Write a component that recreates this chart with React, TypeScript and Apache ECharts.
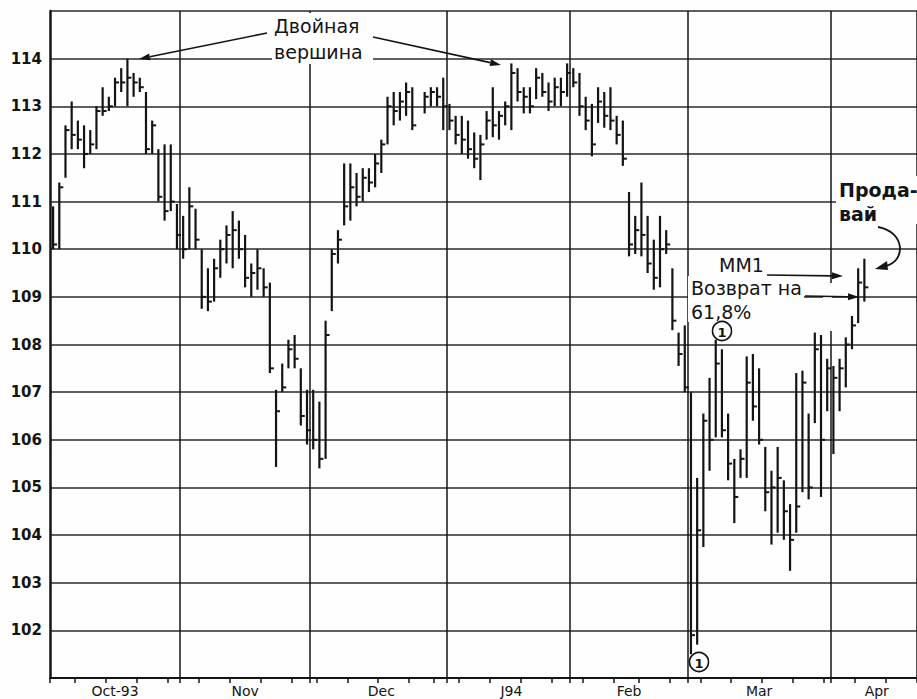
import React, { useEffect, useRef } from "react";
import * as echarts from "echarts";

// ---- data ----
const monthLabels = ["Oct-93", "Nov", "Dec", "J94", "Feb", "Mar", "Apr"];
const monthDays = [21, 21, 22, 20, 19, 23, 14];
const weekStarts = [4, 9, 14, 19, 24, 29, 34, 39, 43, 48, 53, 58, 62, 66, 71, 76, 81, 86, 91, 95, 100, 105, 110, 115, 120, 125, 130, 135];

const highs: (number | null)[] = [
  110.9, 111.4, 112.6, 113.1, 112.7, 112.6, 112.5, 113.0, 113.4, 113.2, 113.6, 113.8, 114.0, 113.7, 113.6, 113.3, 112.7, 112.1, 112.2, 112.2, 110.95,
  110.7, 111.3, 110.85, 110.0, 109.6, 109.8, 110.2, 110.5, 110.8, 110.6, 110.3, 109.7, 110.0, 109.6, 109.3, 107.05, 107.6, 108.1, 108.2, 107.5, 107.05,
  107.05, 106.8, 108.5, 110.0, 110.4, 111.8, 111.8, 111.6, 111.7, 111.7, 112.0, 112.3, 113.2, 113.3, 113.3, 113.5, 113.4, null, 113.3, 113.4, 113.4, 113.6,
  113.05, 112.8, 112.8, 112.7, 112.45, 112.4, 112.9, 113.4, 112.9, 113.1, 113.9, 113.8, 113.4, 113.4, 113.8, 113.7, 113.5, 113.6, 113.6, 113.9,
  113.8, 113.7, 113.2, 113.05, 113.4, 113.3, 113.4, 112.8, 112.7, 111.2, 110.7, 111.4, 110.7, 110.2, 110.7, 110.4, 109.6, 108.25, 108.4,
  107.0, 105.2, 106.55, 107.3, 108.1, 107.9, 106.55, 105.6, 105.8, 107.75, 107.8, 107.5, 105.85, 105.35, 105.85, 105.15, 104.65, 107.4, 107.45, 106.55, 108.25, 108.2, 107.7,
  107.55, 107.7, 108.15, 108.6, 109.6, 109.8,
];
const lows: (number | null)[] = [
  110.0, 110.0, 111.5, 112.1, 112.1, 111.7, 112.0, 112.1, 112.8, 112.9, 113.0, 113.3, 113.0, 113.2, 113.3, 112.0, 112.0, 111.0, 110.6, 110.8, 110.0,
  109.8, 110.0, 110.0, 108.75, 108.7, 108.9, 109.4, 109.7, 109.6, 109.8, 109.2, 109.0, 109.15, 109.0, 107.4, 105.43, 107.0, 107.5, 107.5, 106.3, 105.9,
  105.8, 105.4, 105.6, 108.7, 109.7, 110.5, 110.6, 110.9, 111.0, 111.2, 111.3, 111.6, 112.2, 112.6, 112.7, 112.8, 112.5, null, 112.85, 113.0, 113.0, 112.5,
  112.5, 112.2, 112.0, 111.9, 111.7, 111.45, 112.3, 112.35, 112.3, 112.6, 112.5, 113.1, 112.85, 112.85, 113.15, 113.2, 112.9, 113.0, 113.0, 113.2,
  113.4, 112.8, 112.5, 111.95, 112.65, 112.55, 112.5, 112.2, 111.75, 109.85, 109.9, 109.85, 109.5, 109.15, 109.2, 109.9, 108.3, 107.55, 107.0,
  101.5, 101.7, 103.75, 105.35, 106.05, 106.05, 105.15, 104.25, 105.2, 105.2, 106.4, 105.9, 104.5, 103.8, 104.05, 103.9, 103.25, 104.05, 104.9, 104.75, 106.35, 104.8, 106.6,
  105.7, 106.6, 107.1, 107.9, 108.45, 108.9,
];
const closes: (number | null)[] = [
  110.1, 111.3, 112.5, 112.4, 112.3, 112.0, 112.2, 112.9, 112.9, 113.0, 113.5, 113.5, 113.6, 113.5, 113.4, 112.1, 112.6, 111.1, 110.8, 111.0, 110.3,
  110.0, 110.9, 110.2, 109.0, 108.9, 109.6, 110.0, 110.3, 110.4, 110.0, 109.4, 109.5, 109.6, 109.2, 107.5, 106.6, 107.1, 107.9, 107.7, 106.5, 106.2,
  106.0, 105.6, 108.2, 109.9, 110.2, 110.9, 111.3, 111.1, 111.5, 111.4, 111.8, 112.2, 113.0, 112.9, 113.1, 113.3, 112.6, null, 113.2, 113.3, 113.2, 113.0,
  112.7, 112.4, 112.3, 112.1, 111.9, 112.2, 112.7, 112.6, 112.8, 113.0, 113.7, 113.3, 113.2, 113.0, 113.6, 113.3, 113.1, 113.4, 113.3, 113.7,
  113.5, 113.0, 112.7, 112.2, 113.1, 112.8, 112.7, 112.4, 111.9, 110.1, 110.4, 110.3, 109.7, 109.4, 110.0, 110.1, 108.5, 107.8, 107.1,
  101.9, 104.1, 106.4, 106.0, 107.6, 106.2, 105.5, 104.8, 105.6, 107.2, 106.7, 106.0, 104.9, 105.0, 105.2, 104.5, 103.9, 104.6, 107.2, 105.0, 107.9, 106.0, 107.5,
  107.3, 107.5, 108.0, 108.4, 109.3, 109.2,
];

// ---- derived ----
const categories: string[] = [];
const labelIdx = new Set<number>();
const monthStart = new Set<number>();
{
  let k = 0;
  monthDays.forEach((n, m) => {
    monthStart.add(k);
    for (let d = 0; d < n; d++) {
      if (d === Math.floor(n / 2)) labelIdx.add(k);
      categories.push(monthLabels[m] + "|" + (d + 1));
      k++;
    }
  });
}
const weekSet = new Set<number>(weekStarts);
const barData = highs
  .map((h, i) => (h == null ? null : [i, h, lows[i], closes[i]]))
  .filter((v) => v !== null);

const INK = "#141414";
const BG = "#fefefe";

function arrow(x1: number, y1: number, x2: number, y2: number, head = 11, half = 3.5) {
  const dx = x2 - x1, dy = y2 - y1;
  const len = Math.sqrt(dx * dx + dy * dy);
  const ux = dx / len, uy = dy / len;
  const bx = x2 - ux * head, by = y2 - uy * head;
  return [
    { type: "line", z: 100, shape: { x1, y1, x2: bx, y2: by }, style: { stroke: INK, lineWidth: 1.6 } },
    {
      type: "polygon",
      z: 100,
      shape: { points: [[x2, y2], [bx - uy * half, by + ux * half], [bx + uy * half, by - ux * half]] },
      style: { fill: INK },
    },
  ];
}

function circled(cx: number, cy: number) {
  return [
    { type: "circle", z: 100, shape: { cx, cy, r: 9.5 }, style: { fill: BG, stroke: INK, lineWidth: 1.6 } },
    {
      type: "text", z: 101, x: cx, y: cy + 1,
      style: { text: "1", fill: INK, font: "bold 13px 'DejaVu Sans'", align: "center", verticalAlign: "middle" },
    },
  ];
}

function mask(x: number, y: number, w: number, h: number) {
  return { type: "rect", z: 1, shape: { x, y, width: w, height: h }, style: { fill: BG } };
}

const annoFont = "19px 'DejaVu Sans'";

export default function App() {
  const ref = useRef<HTMLDivElement>(null);
  useEffect(() => {
    if (!ref.current) return;
    const chart = echarts.init(ref.current, undefined, { renderer: "svg" });
    const option: any = {
      animation: false,
      backgroundColor: BG,
      grid: { left: 50, right: 0, top: 11, bottom: 21, containLabel: false },
      xAxis: {
        type: "category",
        data: categories,
        boundaryGap: true,
        axisLine: { show: true, lineStyle: { color: INK, width: 2 } },
        axisTick: {
          show: true,
          length: 5,
          interval: (i: number) => weekSet.has(i) || monthStart.has(i),
          lineStyle: { color: INK, width: 1.5 },
        },
        axisLabel: {
          interval: (i: number) => labelIdx.has(i),
          formatter: (v: string) => v.split("|")[0],
          color: INK,
          fontSize: 14,
          fontFamily: "'DejaVu Sans'",
          margin: 6,
        },
        splitLine: {
          show: true,
          interval: (i: number) => monthStart.has(i) && i > 0,
          lineStyle: { color: INK, width: 1.5 },
        },
      },
      yAxis: {
        type: "value",
        min: 101,
        max: 115,
        interval: 1,
        axisLine: { show: true, lineStyle: { color: INK, width: 2.5 } },
        axisTick: { show: false },
        axisLabel: {
          showMinLabel: false,
          showMaxLabel: false,
          color: INK,
          fontWeight: "bold",
          fontSize: 15,
          fontFamily: "'DejaVu Sans'",
          margin: 8,
        },
        splitLine: { show: true, lineStyle: { color: "#2a2a2a", width: 1.6 } },
      },
      series: [
        {
          type: "custom",
          z: 5,
          data: barData,
          encode: { x: 0, y: [1, 2, 3] },
          renderItem: (params: any, api: any) => {
            const x = api.value(0);
            const h = api.value(1), l = api.value(2), c = api.value(3);
            if (isNaN(h)) return null;
            const pH = api.coord([x, h]);
            const pL = api.coord([x, l]);
            const pC = api.coord([x, c]);
            return {
              type: "group",
              children: [
                { type: "line", shape: { x1: pH[0], y1: pH[1], x2: pL[0], y2: pL[1] }, style: { stroke: INK, lineWidth: 2.2 } },
                { type: "line", shape: { x1: pC[0], y1: pC[1], x2: pC[0] + 4, y2: pC[1] }, style: { stroke: INK, lineWidth: 2 } },
              ],
            };
          },
        },
      ],
      graphic: [
        mask(272, 13, 101, 51),
        mask(836, 176, 81, 48),
        mask(688, 276, 116, 46),
        mask(823, 283, 9, 48),
        {
          type: "text", z: 100, left: 274, top: 13,
          style: { text: "Двойная\nвершина", fill: INK, font: annoFont, lineHeight: 26 },
        },
        ...arrow(267, 33, 139, 59),
        ...arrow(373, 37, 501, 65),
        {
          type: "text", z: 100, left: 839, top: 178,
          style: { text: "Прода-\nвай", fill: INK, font: "bold 19px 'DejaVu Sans'", lineHeight: 24 },
        },
        {
          type: "bezierCurve", z: 100,
          shape: { x1: 878, y1: 227, cpx1: 906, cpy1: 232, cpx2: 906, cpy2: 262, x2: 885, y2: 266 },
          style: { stroke: INK, lineWidth: 1.8, fill: "none" },
        },
        {
          type: "polygon", z: 100,
          shape: { points: [[875, 269], [887, 261], [888, 270]] },
          style: { fill: INK },
        },
        {
          type: "text", z: 100, left: 719, top: 255,
          style: { text: "MM1", fill: INK, font: annoFont },
        },
        {
          type: "text", z: 100, left: 691, top: 276,
          style: { text: "Возврат на\n61,8%", fill: INK, font: annoFont, lineHeight: 24 },
        },
        ...arrow(767, 275, 843, 276),
        ...arrow(805, 296, 859, 297),
        ...circled(722, 331),
        ...circled(699, 662),
      ],
    };
    chart.setOption(option);
    return () => chart.dispose();
  }, []);
  return (
    <div
      ref={ref}
      style={{ position: "fixed", left: 0, top: 0, width: 917, height: 699, background: BG }}
    />
  );
}
